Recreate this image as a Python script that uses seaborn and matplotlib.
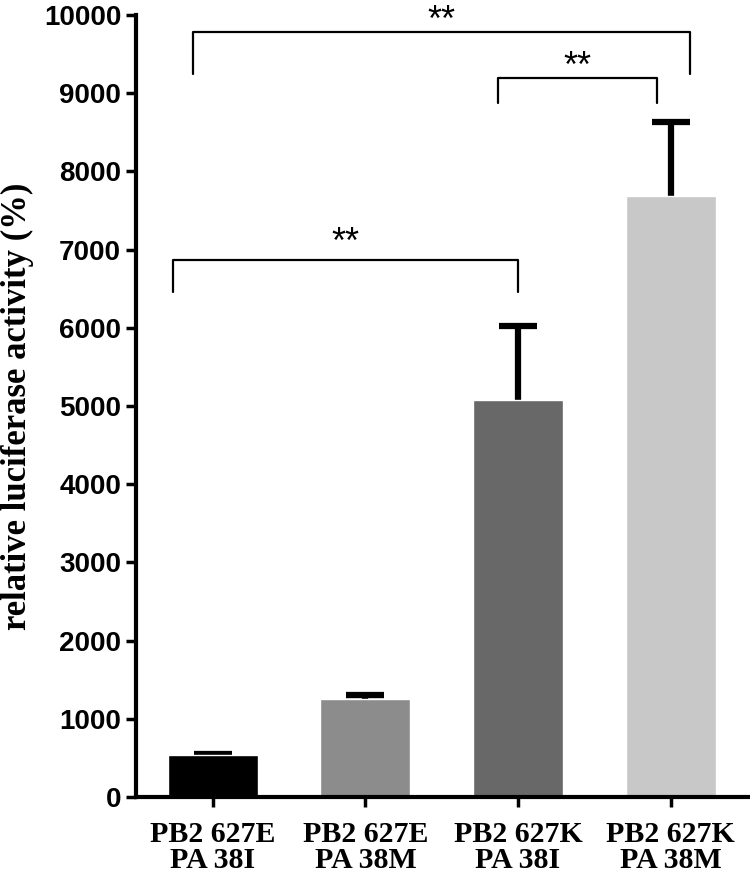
import matplotlib
matplotlib.use("Agg")
import matplotlib.pyplot as plt
import pandas as pd
import seaborn as sns

groups = ["PB2 627E\nPA 38I", "PB2 627E\nPA 38M", "PB2 627K\nPA 38I", "PB2 627K\nPA 38M"]
means = [535, 1260, 5080, 7680]
errs = [10, 45, 940, 950]
colors = ["#000000", "#8c8c8c", "#686868", "#c8c8c8"]

# significance brackets: (x left, x right, y bar, y leg bottom, y of stars, label)
brackets = [
    (-0.13, 3.13, 9780, 9240, 9800, "**"),
    (1.87, 2.91, 9190, 8870, 9200, "**"),
    (-0.26, 2.0, 6870, 6460, 6960, "**"),
]

sns.set_style("white")
plt.rcParams["font.family"] = ["Liberation Sans", "DejaVu Sans"]
plt.rcParams["text.color"] = "black"
plt.rcParams["xtick.color"] = "black"
plt.rcParams["ytick.color"] = "black"

df = pd.DataFrame({"group": groups, "mean": means})

fig = plt.figure(figsize=(7.5, 8.74), dpi=100)
ax = fig.add_axes([0.181, 0.088, 0.819, 0.895])

sns.barplot(data=df, x="group", y="mean", hue="group", palette=colors,
            width=0.59, errorbar=None, legend=False, ax=ax, zorder=2)

ax.errorbar(range(len(groups)), means, yerr=errs, fmt="none", ecolor="black",
            elinewidth=4.5, capsize=13.5, capthick=4.5, zorder=1)

for x1, x2, yb, yl, ys, lab in brackets:
    ax.plot([x1, x1, x2, x2], [yl, yb, yb, yl], color="black", lw=1.6, zorder=3)
    ax.text((x1 + x2) / 2, ys, lab, ha="center", va="baseline",
            fontsize=26, color="black")

ax.set_ylim(0, 10000)
ax.set_xlim(-0.505, 3.52)
ax.set_yticks(range(0, 10001, 1000))
ax.set_xlabel("")
ax.set_ylabel("relative luciferase activity (%)", fontsize=25, fontweight="bold",
              fontfamily="Liberation Serif", color="black")
ax.yaxis.label.set_verticalalignment("center")
ax.yaxis.set_label_coords(-0.193, 0.5)

sns.despine(ax=ax)
for s in ["left", "bottom"]:
    ax.spines[s].set_linewidth(3)
    ax.spines[s].set_color("black")

ax.tick_params(axis="both", direction="out", length=7, width=2.5, color="black",
               left=True, bottom=True, labelcolor="black")
ax.tick_params(axis="x", pad=10)
for t in ax.get_yticklabels():
    t.set_fontsize(20)
    t.set_fontweight("bold")
for t in ax.get_xticklabels():
    t.set_fontsize(21.5)
    t.set_fontweight("bold")
    t.set_fontfamily("Liberation Serif")
    t.set_linespacing(0.95)

fig.savefig("out.png", dpi=100)
